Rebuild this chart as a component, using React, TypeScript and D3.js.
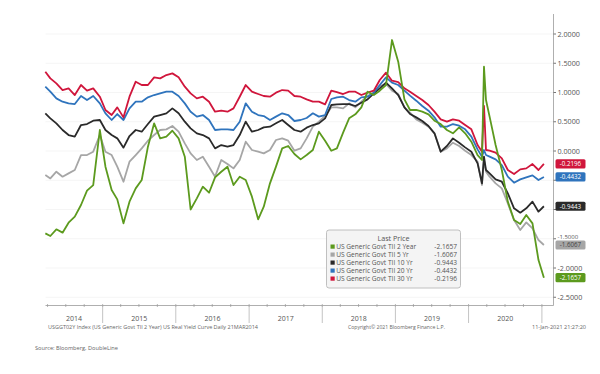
import React from 'react';
import * as d3 from 'd3';

const dates = [
  '2014-03-21','2014-04-15','2014-05-15','2014-06-15','2014-07-15','2014-08-15','2014-09-15','2014-10-15','2014-11-15','2014-12-18',
  '2015-01-15','2015-02-15','2015-03-15','2015-04-15','2015-05-15','2015-06-15','2015-07-15','2015-08-15','2015-09-15','2015-10-15','2015-11-15','2015-12-15',
  '2016-01-15','2016-02-15','2016-03-15','2016-04-15','2016-05-15','2016-06-15','2016-07-15','2016-08-15','2016-09-15','2016-10-15','2016-11-15','2016-12-15',
  '2017-01-15','2017-02-15','2017-03-15','2017-04-15','2017-05-15','2017-06-15','2017-07-15','2017-08-15','2017-09-15','2017-10-15','2017-11-15','2017-12-15',
  '2018-01-15','2018-02-15','2018-03-15','2018-04-15','2018-05-15','2018-06-15','2018-07-15','2018-08-15','2018-09-15','2018-10-15','2018-11-15','2018-12-15',
  '2019-01-15','2019-02-15','2019-03-15','2019-04-15','2019-05-15','2019-06-15','2019-07-15','2019-08-15','2019-09-15','2019-10-15','2019-11-15','2019-12-15',
  '2020-01-15','2020-02-15','2020-03-08','2020-03-18','2020-03-28','2020-04-15','2020-05-15','2020-06-15','2020-07-15','2020-08-15','2020-09-15','2020-10-15','2020-11-15','2020-12-15',
  '2021-01-11',
];

const tii2y = [
  -1.408, -1.453, -1.339, -1.396, -1.225, -1.123, -0.923, -0.678, -0.582, 0.359,
  -0.268, -0.667, -0.827, -1.237, -0.866, -0.639, -0.496, 0.074, 0.473, 0.216, 0.245, 0.347,
  0.216, -0.097, -1.0, -0.809, -0.610, -0.713, -0.450, -0.354, -0.268, -0.582, -0.439, -0.496,
  -0.781, -1.168, -0.952, -0.553, -0.268, 0.045, 0.085, -0.052, -0.143, -0.069, 0.017, 0.330,
  0.176, 0.005, 0.045, 0.313, 0.558, 0.627, 0.746, 1.014, 0.957, 1.031, 1.128, 1.897,
  1.527, 0.883, 0.701, 0.701, 0.672, 0.627, 0.518, 0.461, 0.359, 0.302, 0.404, 0.302,
  0.159, -0.069, -0.154, 1.441, 0.871, 0.587, 0.102, -0.325, -0.866, -1.180, -1.248, -1.094, -1.237, -1.864,
  -2.1657,
];

const tii5y = [
  -0.411, -0.468, -0.354, -0.439, -0.382, -0.325, -0.069, -0.069, -0.012, 0.273,
  -0.012, -0.069, -0.268, -0.525, -0.183, -0.069, 0.045, 0.176, 0.273, 0.359, 0.370, 0.427,
  0.330, 0.131, -0.040, -0.154, -0.097, -0.268, -0.439, -0.154, -0.223, -0.297, -0.154, 0.159,
  0.017, -0.012, -0.040, 0.017, 0.188, 0.216, 0.176, 0.005, 0.045, 0.216, 0.416, 0.501,
  0.598, 0.746, 0.746, 0.729, 0.814, 0.746, 0.843, 0.940, 0.997, 1.111, 1.145, 1.031,
  0.974, 0.746, 0.655, 0.541, 0.484, 0.416, 0.302, -0.012, 0.045, 0.142, 0.085, 0.005,
  -0.069, -0.183, -0.582, -0.154, -0.354, -0.439, -0.553, -0.639, -0.895, -1.180, -1.351, -1.220, -1.322, -1.522,
  -1.6067,
];

const tii10y = [
  0.644, 0.558, 0.473, 0.359, 0.273, 0.245, 0.444, 0.461, 0.518, 0.530,
  0.359, 0.273, 0.216, 0.057, 0.256, 0.359, 0.330, 0.461, 0.587, 0.615, 0.644, 0.729,
  0.644, 0.501, 0.387, 0.302, 0.273, 0.216, 0.045, 0.102, 0.074, 0.102, 0.273, 0.501,
  0.330, 0.359, 0.404, 0.416, 0.473, 0.530, 0.444, 0.359, 0.330, 0.399, 0.444, 0.473,
  0.558, 0.786, 0.797, 0.803, 0.803, 0.769, 0.826, 0.883, 0.985, 1.071, 1.168, 1.071,
  0.957, 0.746, 0.632, 0.575, 0.513, 0.427, 0.302, -0.012, 0.085, 0.216, 0.142, 0.062,
  -0.012, -0.211, -0.553, -0.097, -0.325, -0.382, -0.485, -0.525, -0.724, -0.980, -1.054, -0.980, -0.866, -1.037,
  -0.9443,
];

const tii20y = [
  1.099, 1.014, 0.900, 0.843, 0.814, 0.803, 0.940, 0.871, 0.940, 0.814,
  0.644, 0.530, 0.632, 0.530, 0.729, 0.843, 0.843, 0.917, 0.957, 0.985, 1.014, 1.014,
  0.940, 0.814, 0.672, 0.587, 0.615, 0.530, 0.359, 0.370, 0.370, 0.359, 0.501, 0.814,
  0.672, 0.615, 0.598, 0.530, 0.587, 0.644, 0.615, 0.513, 0.530, 0.564, 0.644, 0.587,
  0.615, 0.889, 0.917, 0.928, 0.871, 0.843, 0.917, 0.928, 0.997, 1.128, 1.259, 1.168,
  1.128, 1.031, 0.946, 0.860, 0.769, 0.689, 0.575, 0.416, 0.416, 0.461, 0.433, 0.370,
  0.245, 0.028, -0.097, 0.017, -0.069, -0.097, -0.143, -0.240, -0.439, -0.542, -0.485, -0.450, -0.416, -0.496,
  -0.4432,
];

const tii30y = [
  1.356, 1.242, 1.156, 1.042, 1.071, 0.957, 1.128, 1.031, 1.071, 0.928,
  0.701, 0.615, 0.746, 0.575, 0.928, 1.185, 1.128, 1.128, 1.259, 1.242, 1.299, 1.327,
  1.259, 1.099, 0.985, 0.900, 0.928, 0.843, 0.672, 0.689, 0.672, 0.729, 0.928, 1.128,
  1.014, 0.974, 0.940, 0.928, 0.997, 1.042, 1.031, 0.940, 0.928, 0.883, 0.843, 0.843,
  0.797, 1.031, 1.008, 0.974, 1.014, 1.014, 0.957, 0.997, 1.031, 1.213, 1.339, 1.202,
  1.179, 1.071, 1.014, 0.940, 0.871, 0.786, 0.672, 0.541, 0.501, 0.541, 0.518, 0.444,
  0.370, 0.102, -0.012, 0.769, 0.017, 0.005, -0.029, -0.126, -0.325, -0.393, -0.314, -0.297, -0.223, -0.325,
  -0.2196,
];

const legendNames = [
  'US Generic Govt TII 2 Year',
  'US Generic Govt TII 5 Yr',
  'US Generic Govt TII 10 Yr',
  'US Generic Govt TII 20 Yr',
  'US Generic Govt TII 30 Yr',
];
const lastPrices = ['-2.1657', '-1.6067', '-0.9443', '-0.4432', '-0.2196'];
const seriesColors = ['#5c9a1e', '#a6a6a6', '#2a2a2a', '#2f74bd', '#d0163c'];
const yTicks = [2, 1.5, 1, 0.5, 0, -0.5, -1, -1.5, -2, -2.5];
// tick labels hidden behind the last-price tags in the reference
const hiddenTickLabels = [-0.5, -1, -1.5];

const FONT = "'Open Sans', 'Liberation Sans', sans-serif";

export default function App() {
  const parse = d3.timeParse('%Y-%m-%d');
  const dts = dates.map((d) => parse(d) as Date);
  const x = d3.scaleTime().domain([new Date(2014, 0, 1), new Date(2021, 0, 1)]).range([29.5, 541.9]);
  const y = d3.scaleLinear().domain([-2.5, 2]).range([297.25, 34]);
  const allSeries = [tii2y, tii5y, tii10y, tii20y, tii30y];
  const drawOrder = [1, 2, 3, 4, 0];
  const lineGen = d3
    .line<number>()
    .x((_, i) => x(dts[i]))
    .y((v) => y(v));

  const axisY = 305.5;
  const axisX = 553.5;
  const plotLeft = 45.5;
  const years = d3.timeYear.range(new Date(2014, 0, 1), new Date(2022, 0, 1));
  const quarters = d3.timeMonth.every(3)!.range(new Date(2014, 3, 1), new Date(2021, 0, 2));
  const fmt = (v: number) => d3.format('.4f')(v).replace('\u2212', '-');

  return (
    <svg width={600} height={374} style={{ position: 'absolute', left: 0, top: 0, background: '#fff' }} fontFamily={FONT}>
      <rect x={0} y={0} width={600} height={374} fill="#fff" />
      {yTicks.map((t) => (
        <line key={'g' + t} x1={plotLeft} x2={axisX} y1={y(t)} y2={y(t)} stroke="#f3f3f3" strokeWidth={0.8} />
      ))}
      {drawOrder.map((si) => (
        <path
          key={'s' + si}
          d={lineGen(allSeries[si]) || ''}
          fill="none"
          stroke={seriesColors[si]}
          strokeWidth={1.8}
          strokeLinejoin="round"
        />
      ))}
      <line x1={plotLeft} x2={axisX} y1={axisY} y2={axisY} stroke="#9a9a9a" strokeWidth={0.8} />
      {quarters.map((q, i) => (
        <line key={'q' + i} x1={x(q)} x2={x(q)} y1={axisY - 1.5} y2={axisY + 1.5} stroke="#9a9a9a" strokeWidth={0.7} />
      ))}
      {years.slice(1, 8).map((yr, i) => (
        <line key={'yd' + i} x1={x(yr)} x2={x(yr)} y1={axisY} y2={323} stroke="#b5b5b5" strokeWidth={0.8} />
      ))}
      {years.slice(0, 7).map((yr, i) => {
        const start = Math.max(x(yr), plotLeft);
        const end = x(years[i + 1]);
        return (
          <text key={'yl' + i} x={(start + end) / 2} y={320.5} fontSize={7} fill="#555" textAnchor="middle">
            {d3.timeFormat('%Y')(yr)}
          </text>
        );
      })}
      <line x1={axisX} x2={axisX} y1={14} y2={axisY} stroke="#9a9a9a" strokeWidth={0.8} />
      {yTicks.map((t) => (
        <g key={'yt' + t}>
          <line x1={axisX} x2={axisX + 2.5} y1={y(t)} y2={y(t)} stroke="#666" strokeWidth={0.9} />
          {hiddenTickLabels.indexOf(t) < 0 && (
            <text x={axisX + 4} y={y(t) + 2.5} fontSize={7.2} fill="#555">
              {fmt(t)}
            </text>
          )}
        </g>
      ))}
      {/* -1.5000 label, partly covered by the 5Y tag as in the reference */}
      <text x={axisX + 4} y={y(-1.5)} fontSize={6} fill="#555">
        {fmt(-1.5)}
      </text>
      {[4, 3, 2, 1, 0].map((si) => {
        const v = allSeries[si][allSeries[si].length - 1];
        const cy = y(v);
        return (
          <g key={'lv' + si}>
            <rect x={555.5} y={cy - 4.6} width={30} height={9.2} rx={1.5} fill={seriesColors[si]} />
            <text x={570.5} y={cy + 2.3} fontSize={6.2} fill={si === 1 ? '#444' : '#fff'} textAnchor="middle">
              {lastPrices[si]}
            </text>
          </g>
        );
      })}
      <rect x={326.5} y={230} width={134} height={58} rx={2.5} fill="#f4f4f4" stroke="#b9b9b9" strokeWidth={0.9} />
      <text x={393.5} y={240.5} fontSize={7.2} fill="#555" textAnchor="middle">
        Last Price
      </text>
      {legendNames.map((n, i) => (
        <g key={'lg' + i}>
          <rect x={330.5} y={244.5 + i * 8} width={4.2} height={4.2} fill={seriesColors[i]} />
          <text x={336.2} y={249 + i * 8} fontSize={6.6} fill="#555">
            {n}
          </text>
          <text x={457} y={249 + i * 8} fontSize={6.6} fill="#555" textAnchor="end">
            {lastPrices[i]}
          </text>
        </g>
      ))}
      <text x={48} y={329} fontSize={4.6} fill="#666" textLength={210} lengthAdjust="spacingAndGlyphs">
        USGGT02Y Index (US Generic Govt TII 2 Year) US Real Yield Curve Daily 21MAR2014
      </text>
      <text x={348} y={329} fontSize={4.6} fill="#666" textLength={97} lengthAdjust="spacingAndGlyphs">
        Copyright© 2021 Bloomberg Finance L.P.
      </text>
      <text x={532} y={329} fontSize={4.6} fill="#666" textLength={54} lengthAdjust="spacingAndGlyphs">
        11-Jan-2021 21:27:20
      </text>
      <text x={35} y={350} fontSize={5.6} fill="#666" textLength={83} lengthAdjust="spacingAndGlyphs">
        Source: Bloomberg, DoubleLine
      </text>
    </svg>
  );
}
